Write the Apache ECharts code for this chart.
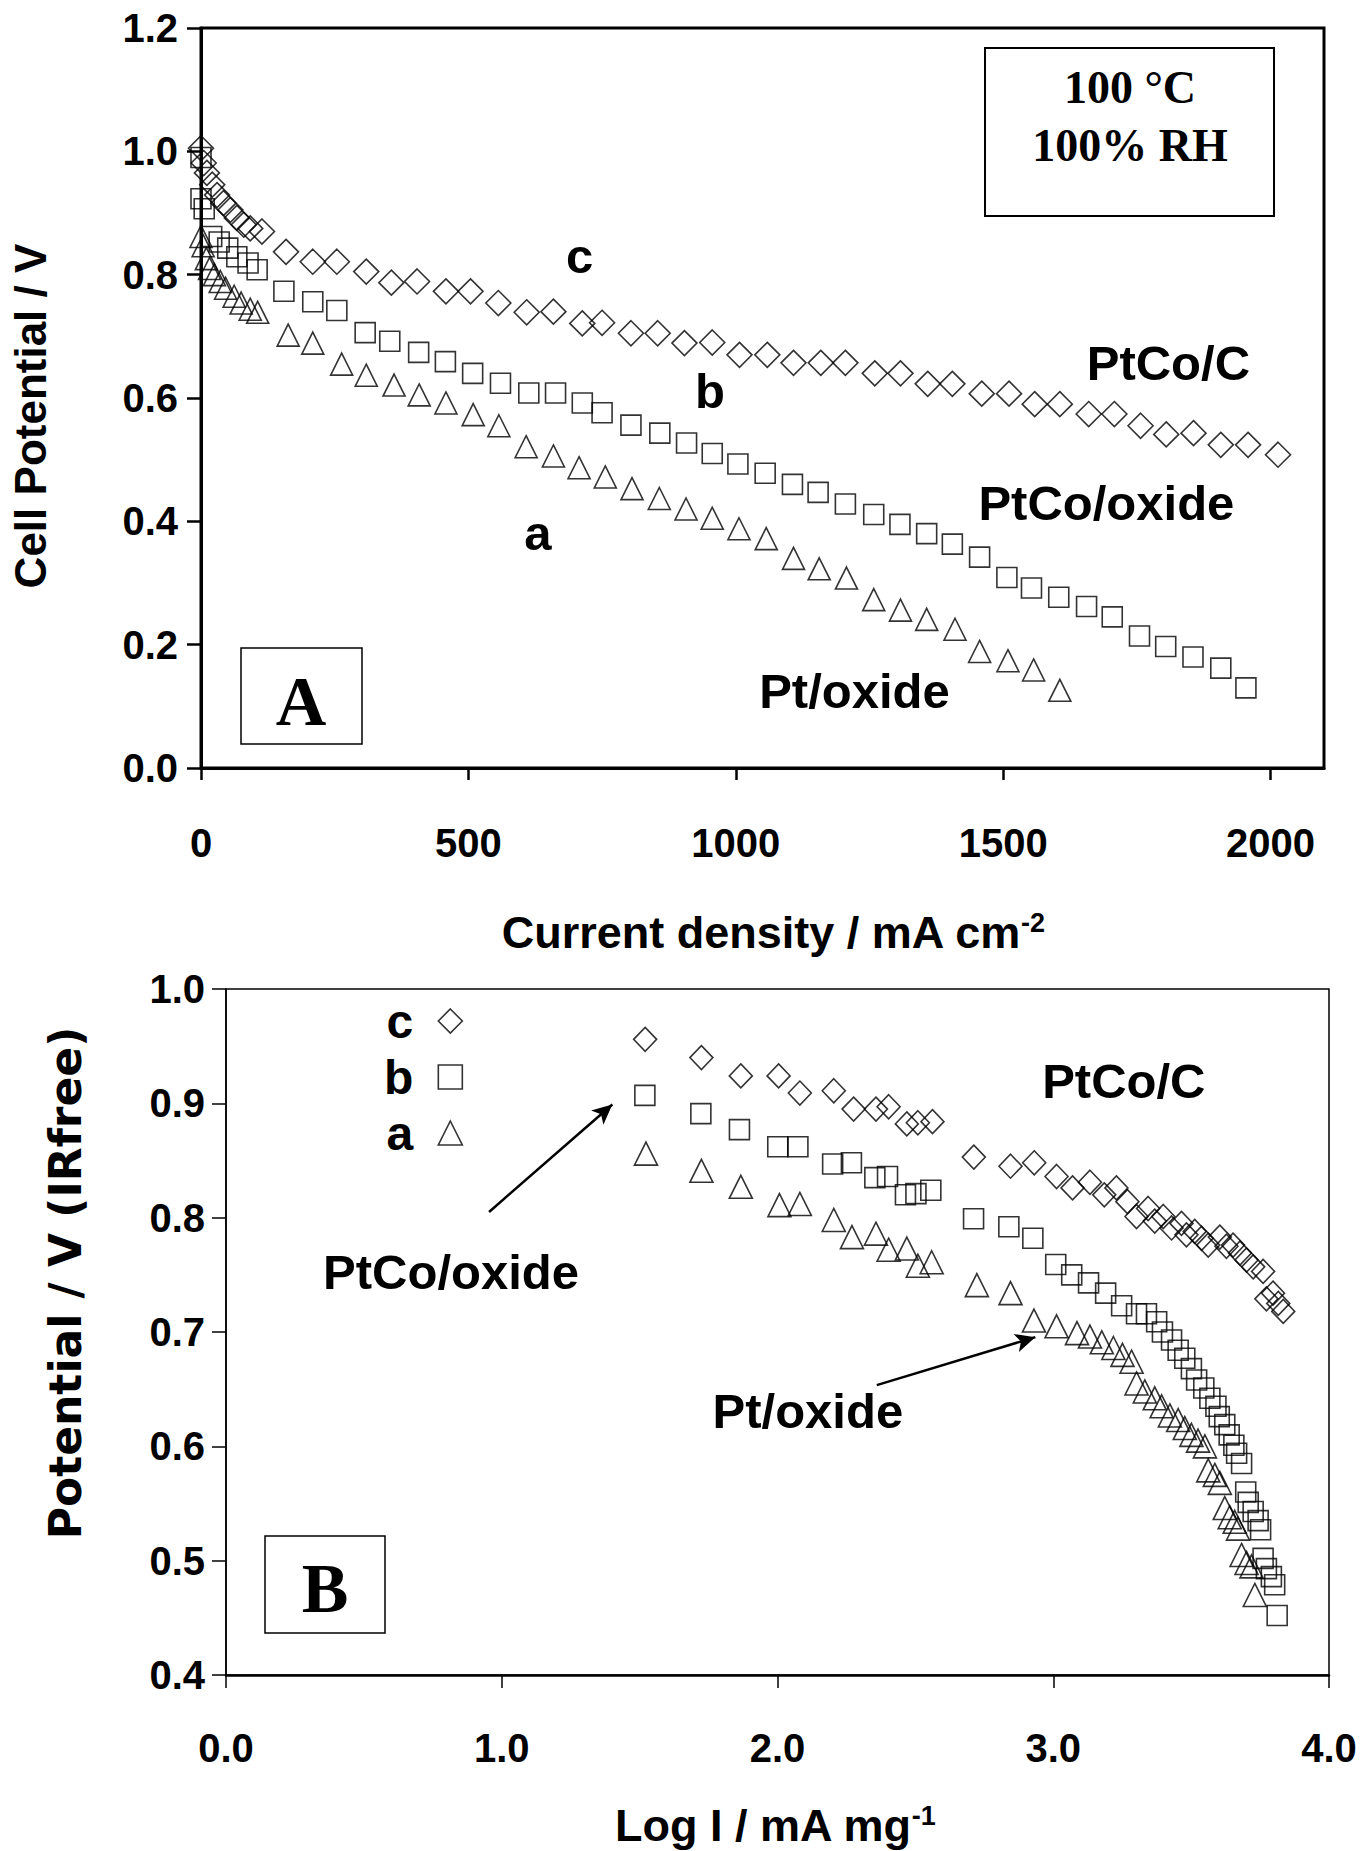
<!DOCTYPE html>
<html><head><meta charset="utf-8">
<script src="https://cdn.jsdelivr.net/npm/echarts@6/dist/echarts.min.js"></script>
<style>html,body{margin:0;padding:0;background:#fff}#c{width:1362px;height:1851px}</style>
</head><body><div id="c"></div>
<script>
// ---------- Panel A : cell potential vs current density ----------
const ticksA_x = [0, 500, 1000, 1500, 2000];
const ticksB_x = [0, 1, 2, 3, 4];
// c : PtCo/C (diamonds)
const cA = [[0,1.005],[5,0.981],[11,0.965],[21,0.946],[30,0.929],[42,0.916],[55,0.905],[67,0.892],[80,0.881],[92,0.875],[114,0.870],[159,0.837],[209,0.821],[254,0.821],[309,0.805],[356,0.787],[404,0.789],[458,0.773],[504,0.773],[556,0.754],[609,0.739],[659,0.740],[713,0.721],[750,0.722],[804,0.705],[854,0.705],[904,0.689],[956,0.690],[1007,0.670],[1059,0.670],[1108,0.657],[1159,0.657],[1205,0.657],[1260,0.640],[1308,0.640],[1359,0.623],[1405,0.623],[1460,0.607],[1511,0.607],[1559,0.590],[1606,0.590],[1660,0.574],[1708,0.574],[1757,0.555],[1805,0.541],[1856,0.543],[1907,0.524],[1958,0.524],[2014,0.508]];
// b : PtCo/oxide (squares)
const bA = [[0,0.990],[0,0.923],[6,0.907],[20,0.862],[34,0.853],[50,0.843],[67,0.829],[88,0.819],[105,0.808],[155,0.773],[209,0.756],[254,0.742],[307,0.706],[353,0.692],[407,0.674],[457,0.659],[508,0.640],[560,0.624],[613,0.608],[663,0.608],[713,0.592],[750,0.576],[804,0.556],[858,0.543],[908,0.527],[956,0.510],[1004,0.493],[1055,0.478],[1106,0.460],[1154,0.447],[1205,0.428],[1258,0.411],[1307,0.395],[1357,0.380],[1405,0.363],[1456,0.342],[1507,0.309],[1553,0.292],[1604,0.277],[1656,0.262],[1704,0.245],[1755,0.214],[1804,0.197],[1855,0.180],[1907,0.162],[1954,0.130]];
// a : Pt/oxide (triangles)
const aA = [[0,0.862],[4,0.847],[10,0.826],[16,0.810],[25,0.800],[36,0.789],[46,0.778],[62,0.765],[75,0.754],[92,0.744],[106,0.739],[163,0.702],[209,0.689],[263,0.655],[309,0.637],[361,0.621],[408,0.605],[458,0.592],[509,0.573],[557,0.555],[608,0.521],[659,0.506],[707,0.487],[756,0.472],[806,0.453],[857,0.437],[907,0.420],[956,0.405],[1006,0.388],[1057,0.372],[1108,0.340],[1156,0.323],[1207,0.308],[1258,0.273],[1308,0.256],[1357,0.241],[1410,0.225],[1456,0.189],[1509,0.174],[1557,0.159],[1606,0.126]];

// ---------- Panel B : IR-free potential vs log mass activity ----------
const cB = [[1.520,0.956],[1.724,0.940],[1.867,0.924],[2.004,0.924],[2.081,0.909],[2.204,0.911],[2.276,0.895],[2.357,0.895],[2.403,0.897],[2.469,0.882],[2.509,0.883],[2.562,0.884],[2.712,0.853],[2.845,0.845],[2.931,0.848],[3.012,0.836],[3.070,0.826],[3.133,0.831],[3.185,0.820],[3.229,0.826],[3.269,0.814],[3.302,0.801],[3.344,0.808],[3.368,0.797],[3.399,0.801],[3.429,0.791],[3.465,0.795],[3.483,0.785],[3.513,0.788],[3.538,0.782],[3.562,0.776],[3.604,0.783],[3.628,0.775],[3.652,0.776],[3.677,0.769],[3.701,0.763],[3.725,0.757],[3.761,0.753],[3.773,0.729],[3.797,0.734],[3.816,0.725],[3.834,0.718]];
const bB = [[1.519,0.907],[1.722,0.891],[1.862,0.877],[2.001,0.862],[2.074,0.862],[2.200,0.847],[2.268,0.848],[2.353,0.835],[2.399,0.836],[2.464,0.820],[2.502,0.821],[2.556,0.824],[2.711,0.799],[2.839,0.792],[2.926,0.782],[3.009,0.759],[3.067,0.750],[3.128,0.743],[3.190,0.734],[3.248,0.723],[3.302,0.716],[3.338,0.716],[3.375,0.709],[3.396,0.700],[3.429,0.693],[3.453,0.684],[3.477,0.677],[3.501,0.668],[3.520,0.658],[3.546,0.651],[3.568,0.642],[3.590,0.635],[3.602,0.626],[3.622,0.619],[3.638,0.610],[3.655,0.601],[3.665,0.594],[3.683,0.585],[3.698,0.560],[3.707,0.551],[3.725,0.543],[3.743,0.535],[3.752,0.527],[3.761,0.502],[3.773,0.493],[3.791,0.486],[3.803,0.479],[3.812,0.452]];
const aB = [[1.523,0.856],[1.724,0.841],[1.867,0.827],[2.007,0.811],[2.081,0.812],[2.204,0.798],[2.270,0.783],[2.357,0.786],[2.403,0.772],[2.469,0.773],[2.509,0.758],[2.559,0.761],[2.723,0.741],[2.845,0.734],[2.930,0.710],[3.012,0.705],[3.086,0.699],[3.133,0.696],[3.176,0.691],[3.218,0.686],[3.251,0.680],[3.284,0.674],[3.302,0.655],[3.332,0.648],[3.368,0.642],[3.393,0.635],[3.423,0.627],[3.453,0.623],[3.477,0.616],[3.501,0.610],[3.525,0.605],[3.550,0.600],[3.562,0.579],[3.586,0.575],[3.604,0.568],[3.622,0.546],[3.640,0.538],[3.658,0.534],[3.670,0.528],[3.683,0.505],[3.701,0.498],[3.719,0.495],[3.731,0.470]];

// annotation anchors (data units)
const labelsA = [['c',708,0.8305],['b',952,0.6115],['a',630,0.381],['PtCo/C',1809,0.657],['PtCo/oxide',1693,0.430],['Pt/oxide',1222,0.125]];
const labelsB = [['PtCo/C',3.256,0.9195],['PtCo/oxide',0.816,0.7528],['Pt/oxide',2.110,0.6308]];
const arrowsB = [[[0.954,0.805],[1.401,0.899]],[[2.360,0.6535],[2.935,0.6955]]];

const SANS = '"Liberation Sans", Arial, sans-serif';
const WIDE = '"DejaVu Sans", sans-serif';
const SERIF = '"Liberation Serif", "Times New Roman", serif';

const chart = echarts.init(document.getElementById('c'), null, {renderer: 'svg', width: 1362, height: 1851});

function tickLabel(margin, fmt) {
  return {margin: margin, fontFamily: SANS, fontWeight: 'bold', fontSize: 40, color: '#000', formatter: fmt};
}
const f1 = v => Number(v).toFixed(1);
const f0 = v => String(Math.round(v));
const markStyle = {color: 'rgba(0,0,0,0)', borderColor: '#000', borderWidth: 1.6};

function sc(name, data, g, symbol, size, extra) {
  return Object.assign({
    name: name, type: 'scatter', xAxisIndex: g, yAxisIndex: g, data: data,
    symbol: symbol, symbolSize: size, itemStyle: markStyle, silent: true,
    emphasis: {disabled: true}, z: 3
  }, extra || {});
}

const option = {
  animation: false,
  backgroundColor: '#fff',
  grid: [
    {left: 201, top: 28, width: 1123, height: 740, show: true, borderColor: '#000', borderWidth: 3, backgroundColor: 'rgba(0,0,0,0)'},
    {left: 226, top: 989, width: 1103, height: 686, show: true, borderColor: '#000', borderWidth: 1.5, backgroundColor: 'rgba(0,0,0,0)'}
  ],
  xAxis: [
    {gridIndex: 0, type: 'value', min: 0, max: 2100, interval: 500,
     axisLine: {onZero: false, lineStyle: {color: '#000', width: 3}},
     axisTick: {length: 12, lineStyle: {color: '#000', width: 2.5}, customValues: ticksA_x},
     axisLabel: Object.assign(tickLabel(55, f0), {customValues: ticksA_x}),
     splitLine: {show: false}},
    {gridIndex: 1, type: 'value', min: 0, max: 4, interval: 1,
     axisLine: {onZero: false, lineStyle: {color: '#000', width: 2.5}},
     axisTick: {length: 13, lineStyle: {color: '#000', width: 1.5}, customValues: ticksB_x},
     axisLabel: Object.assign(tickLabel(53, f1), {customValues: ticksB_x}),
     splitLine: {show: false}}
  ],
  yAxis: [
    {gridIndex: 0, type: 'value', min: 0, max: 1.2, interval: 0.2,
     axisLine: {onZero: false, lineStyle: {color: '#000', width: 3}},
     axisTick: {length: 14, lineStyle: {color: '#000', width: 2.5}},
     axisLabel: tickLabel(23, f1), splitLine: {show: false}},
    {gridIndex: 1, type: 'value', min: 0.4, max: 1.0, interval: 0.1,
     axisLine: {onZero: false, lineStyle: {color: '#000', width: 1.5}},
     axisTick: {length: 14, lineStyle: {color: '#000', width: 1.5}},
     axisLabel: tickLabel(21, f1), splitLine: {show: false}}
  ],
  legend: {
    data: ['c', 'b', 'a'], orient: 'vertical', left: 379, top: 992, align: 'right',
    itemWidth: 24, itemHeight: 24, itemGap: 8, selectedMode: false,
    itemStyle: {borderWidth: 1.6, borderColor: '#000', color: 'rgba(0,0,0,0)'},
    textStyle: {fontFamily: SANS, fontWeight: 'bold', fontSize: 48, color: '#000', padding: [0, 20, 0, 0]}
  },
  series: [
    sc('c (A)', cA, 0, 'diamond', [25, 25]),
    sc('b (A)', bA, 0, 'rect', [20, 20]),
    sc('a (A)', aA, 0, 'triangle', [22, 22]),
    sc('c', cB, 1, 'diamond', [23, 24]),
    sc('b', bB, 1, 'rect', [20, 20]),
    sc('a', aB, 1, 'triangle', [23, 23], {
      markLine: {
        silent: true, symbol: ['none', 'arrow'], symbolSize: [14, 20], animation: false,
        lineStyle: {color: '#000', width: 2.5, type: 'solid'}, label: {show: false},
        emphasis: {disabled: true},
        data: arrowsB.map(a => [{coord: a[0]}, {coord: a[1]}])
      }
    })
  ]
};
chart.setOption(option);

// annotations placed through the axis scales
const gfx = [];
function addLabel(g, item) {
  const p = chart.convertToPixel({gridIndex: g}, [item[1], item[2]]);
  gfx.push({type: 'text', x: p[0], y: p[1], silent: true, z: 10,
    style: {text: item[0], fill: '#000', fontFamily: SANS, fontWeight: 'bold', fontSize: 49, align: 'center', verticalAlign: 'middle'}});
}
labelsA.forEach(it => addLabel(0, it));
labelsB.forEach(it => addLabel(1, it));

// condition box
gfx.push({type: 'rect', shape: {x: 985, y: 48, width: 289, height: 168}, style: {fill: '#fff', stroke: '#000', lineWidth: 2}, z: 5});
gfx.push({type: 'text', x: 1130, y: 87, z: 6, style: {text: '100 °C', fill: '#000', fontFamily: SERIF, fontWeight: 'bold', fontSize: 46, align: 'center', verticalAlign: 'middle'}});
gfx.push({type: 'text', x: 1130, y: 145, z: 6, style: {text: '100% RH', fill: '#000', fontFamily: SERIF, fontWeight: 'bold', fontSize: 46, align: 'center', verticalAlign: 'middle'}});
// panel letters
gfx.push({type: 'rect', shape: {x: 241, y: 648, width: 121, height: 96}, style: {fill: '#fff', stroke: '#000', lineWidth: 1.5}, z: 5});
gfx.push({type: 'text', x: 301, y: 701, z: 6, style: {text: 'A', fill: '#000', fontFamily: SERIF, fontWeight: 'bold', fontSize: 70, align: 'center', verticalAlign: 'middle'}});
gfx.push({type: 'rect', shape: {x: 265, y: 1536, width: 120, height: 97}, style: {fill: '#fff', stroke: '#000', lineWidth: 1.5}, z: 5});
gfx.push({type: 'text', x: 325, y: 1588, z: 6, style: {text: 'B', fill: '#000', fontFamily: SERIF, fontWeight: 'bold', fontSize: 70, align: 'center', verticalAlign: 'middle'}});
// axis titles
const richT = {m: {fontFamily: SANS, fontWeight: 'bold', fontSize: 45, fill: '#000'},
               s: {fontFamily: SANS, fontWeight: 'bold', fontSize: 27, fill: '#000', verticalAlign: 'top'}};
gfx.push({type: 'text', x: 773, y: 932, z: 6, style: {
  text: '{m|Current density / mA cm}{s|-2}', align: 'center', verticalAlign: 'middle', rich: richT}});
gfx.push({type: 'text', x: 775, y: 1825, z: 6, style: {
  text: '{m|Log I / mA mg}{s|-1}', align: 'center', verticalAlign: 'middle', rich: richT}});
gfx.push({type: 'text', x: 30, y: 416, rotation: Math.PI / 2, z: 6, style: {text: 'Cell Potential / V', fill: '#000', fontFamily: SANS, fontWeight: 'bold', fontSize: 44, align: 'center', verticalAlign: 'middle'}});
gfx.push({type: 'text', x: 65, y: 1283, rotation: Math.PI / 2, z: 6, style: {text: 'Potential / V (IRfree)', fill: '#000', fontFamily: WIDE, fontWeight: 'bold', fontSize: 44, align: 'center', verticalAlign: 'middle'}});

chart.setOption({graphic: gfx});
</script>
</body></html>
